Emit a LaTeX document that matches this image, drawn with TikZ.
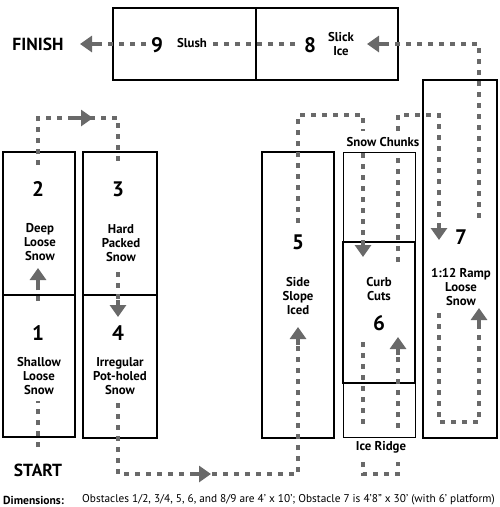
\documentclass[tikz,border=0pt]{standalone}
\usepackage{fontspec}
\setmainfont{PT Sans}
\usetikzlibrary{arrows.meta}
\definecolor{trail}{RGB}{105,105,105}
\begin{document}
\begin{tikzpicture}[x=1pt,y=-1pt,
 box/.style={draw=black, line width=2.9pt, inner sep=0pt, outer sep=0pt},
 thinbox/.style={draw=black, line width=0.9pt, inner sep=0pt, outer sep=0pt},
 trailpath/.style={draw=trail, line width=4pt, dash pattern=on 5pt off 6pt},
 tipseg/.style={draw=trail, line width=4pt, -{Triangle[length=12pt,width=16pt]}},
 num/.style={font=\bfseries\fontsize{21}{21}\selectfont, inner sep=0pt},
 lbl/.style={font=\bfseries\fontsize{12.8}{14}\selectfont, align=center, inner sep=0pt},
 big/.style={font=\bfseries\fontsize{17.5}{17}\selectfont, inner sep=0pt},
 dim/.style={font=\fontsize{11.3}{13}\selectfont, inner sep=0pt, anchor=west}]
\useasboundingbox (0,0) rectangle (500,507);
% boxes
\node[box, minimum width=72pt, minimum height=143pt] (b2) at (39,223.5) {};
\node[box, minimum width=72pt, minimum height=142pt] (b1) at (39,366) {};
\node[box, minimum width=74pt, minimum height=143pt] (b3) at (120,223.5) {};
\node[box, minimum width=74pt, minimum height=143pt] (b4) at (120,366.5) {};
\node[box, minimum width=72pt, minimum height=286pt] (b5) at (298,295) {};
\node[thinbox, minimum width=72pt, minimum height=285pt] (bthin) at (379,294.5) {};
\node[box, minimum width=72pt, minimum height=141pt] (b6) at (379,312.5) {};
\node[box, minimum width=74pt, minimum height=358pt] (b7) at (460,259) {};
\node[box, minimum width=143pt, minimum height=72pt] (b9) at (184.5,44) {};
\node[box, minimum width=142pt, minimum height=72pt] (b8) at (327,44) {};
% labels
\node[big] (finish) at (38,44) {FINISH};
\node[big] (start) at (38,470) {START};
\node[num] (n2) at (38,189) {2};
\node[lbl] (t2) at (40,242) {Deep\\Loose\\Snow};
\node[num] (n3) at (118,189) {3};
\node[lbl] (t3) at (121,243) {Hard\\Packed\\Snow};
\node[num] (n1) at (38,333) {1};
\node[lbl] (t1) at (39,376) {Shallow\\Loose\\Snow};
\node[num] (n4) at (118,333) {4};
\node[lbl] (t4) at (120,376) {Irregular\\Pot-holed\\Snow};
\node[num] (n5) at (298,242) {5};
\node[lbl] (t5) at (298,296) {Side\\Slope\\Iced};
\node[lbl] (tsc) at (383,142) {Snow Chunks};
\node[lbl] (t6) at (379,289) {Curb\\Cuts};
\node[num] (n6) at (379,323) {6};
\node[lbl] (tir) at (381,447) {Ice Ridge};
\node[num] (n7) at (461,237) {7};
\node[lbl] (t7) at (461,287) {1:12 Ramp\\Loose\\Snow};
\node[num] (n9) at (157,45) {9};
\node[lbl] (t9) at (192,43) {Slush};
\node[num] (n8) at (310,45) {8};
\node[lbl] (t8) at (341,44) {Slick\\Ice};
\node[dim, font=\bfseries\fontsize{11.6}{13}\selectfont] (dimh) at (3,500) {Dimensions:};
\node[dim] (dimt) at (82,500) {Obstacles 1/2, 3/4, 5, 6, and 8/9 are 4’ x 10’; Obstacle 7 is 4’8” x 30’ (with 6’ platform)};
% trail
\draw[trailpath] (38,447) -- (38,401);
\draw[trailpath] (38,301) -- (38,288);
\draw[tipseg] (38,290) -- (38,268);
\draw[trailpath] (38,165) -- (38,118) -- (118,118) -- (118,166);
\draw[tipseg] (70,118) -- (93,118);
\draw[trailpath] (118,272) -- (118,302);
\draw[tipseg] (118,300) -- (118,317);
\draw[trailpath] (118,403) -- (118,474) -- (298,474) -- (298,343);
\draw[tipseg] (190,474) -- (211,474);
\draw[tipseg] (298,345) -- (298,327);
\draw[trailpath] (298,223) -- (298,115) -- (363,115) -- (363,131);
\draw[trailpath] (363,153) -- (363,242);
\draw[tipseg] (363,240) -- (363,257);
\draw[trailpath] (363,342) -- (363,428);
\draw[trailpath] (363,462) -- (363,474) -- (398,474) -- (398,462);
\draw[trailpath] (398,428) -- (398,353);
\draw[tipseg] (398,355) -- (398,337);
\draw[trailpath] (398,262) -- (398,153);
\draw[trailpath] (398,131) -- (398,115) -- (439,115) -- (439,225);
\draw[tipseg] (439,223) -- (439,240);
\draw[trailpath] (439,313) -- (439,422) -- (479,422) -- (479,324);
\draw[tipseg] (479,326) -- (479,308);
\draw[trailpath] (479,218) -- (479,44) -- (382,44);
\draw[tipseg] (384,44) -- (367,44);
\draw[trailpath] (295,44) -- (213,44);
\draw[trailpath] (146,44) -- (96,44);
\draw[tipseg] (98,44) -- (80,44);
\end{tikzpicture}
\end{document}
